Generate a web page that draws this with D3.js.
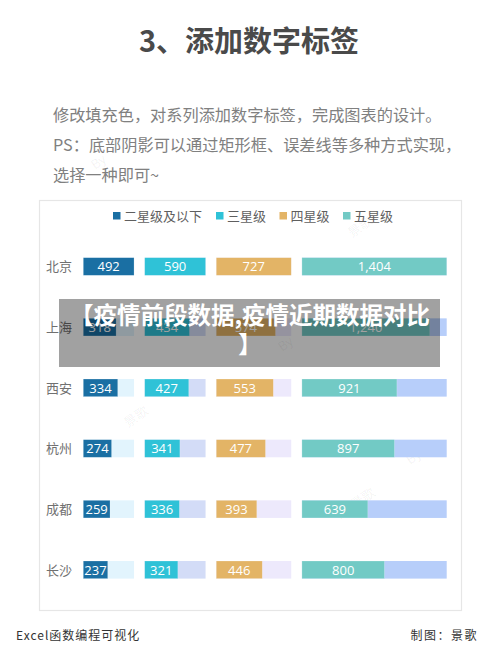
<!DOCTYPE html>
<html><head><meta charset="utf-8">
<script src="https://cdn.jsdelivr.net/npm/d3@7"></script>
<style>
html,body{margin:0;padding:0;background:#fff;}
svg{display:block;font-family:"Noto Sans CJK SC","Noto Sans",sans-serif;}
</style></head>
<body>
<script>
const cities = ["北京","上海","西安","杭州","成都","长沙"];
const seriesNames = ["二星级及以下","三星级","四星级","五星级"];
const star2 = [492,318,334,274,259,237];
const star3 = [590,434,427,341,336,321];
const star4 = [727,574,553,477,393,446];
const star5 = [1404,1240,921,897,639,800];
const seriesValues = [star2,star3,star4,star5];
const fgColors = ["#1a6fa3","#2fc2d7","#e3b466","#72cac5"];
const bgColors = ["#e2f4fd","#d3dcf7","#ede9fc","#b7cefa"];
const titleText = "3、添加数字标签";
const paraLines = ["修改填充色，对系列添加数字标签，完成图表的设计。","PS：底部阴影可以通过矩形框、误差线等多种方式实现，","选择一种即可~"];
const overlayLines = ["【疫情前段数据,疫情近期数据对比","】"];

const W=500,H=666;
const svg=d3.select("body").append("svg").attr("width",W).attr("height",H);
svg.append("rect").attr("width",W).attr("height",H).attr("fill","#fff");

// title
svg.append("text").attr("x",249).attr("y",52).attr("text-anchor","middle")
  .attr("font-size",29).attr("font-weight","bold").attr("fill","#4a4a4a").text(titleText);
paraLines.forEach((t,i)=>{
  svg.append("text").attr("x",53).attr("y",121+i*30).attr("font-size",16.2)
    .attr("fill","#808080").text(t);
});

// panel
svg.append("rect").attr("x",39.5).attr("y",200.5).attr("width",422).attr("height",410)
  .attr("fill","#fff").attr("stroke","#e6e6e6").attr("stroke-width",1.2);

// watermarks
const wm=[[352,238,"景歌"],[282,352,"By"],[128,428,"景歌"],[340,520,"By 景歌"],[95,170,"By"],[410,465,"By"]];
wm.forEach(d=>svg.append("text").attr("transform",`translate(${d[0]},${d[1]}) rotate(-35)`)
  .attr("font-size",13).attr("fill","#000").attr("fill-opacity",0.06).text(d[2]));

// legend
const legX=[113,216,279.5,343];
seriesNames.forEach((n,i)=>{
  svg.append("rect").attr("x",legX[i]).attr("y",212).attr("width",7.5).attr("height",7.5).attr("fill",fgColors[i]);
  svg.append("text").attr("x",legX[i]+11).attr("y",220.5).attr("font-size",13).attr("fill","#5f5f5f").text(n);
});

// scales
const maxes = seriesValues.map(s=>d3.max(s));
const total = d3.sum(maxes);
const gap = 10.7;
const x = d3.scaleLinear().domain([0,total]).range([83.3,446.7-3*gap]);
const offsets = maxes.map((m,i)=>d3.sum(maxes.slice(0,i)));
const y = d3.scalePoint().domain(cities).range([266.5,569.8]);
const bh = 17.6;
const fmt = d3.format(",");

cities.forEach((c,ci)=>{
  svg.append("text").attr("x",46).attr("y",y(c)+4.8).attr("font-size",13).attr("fill","#707070").text(c);
  seriesValues.forEach((s,si)=>{
    const x0 = x(offsets[si]) + si*gap;
    const bgW = x(maxes[si]) - x(0);
    const fgW = x(s[ci]) - x(0);
    svg.append("rect").attr("x",x0).attr("y",y(c)-bh/2).attr("width",bgW).attr("height",bh)
      .attr("fill",bgColors[si]);
    svg.append("rect").attr("x",x0).attr("y",y(c)-bh/2).attr("width",fgW).attr("height",bh)
      .attr("fill",fgColors[si]).attr("stroke","#fff").attr("stroke-opacity",0.35).attr("stroke-width",0.6);
    svg.append("text").attr("x",x0+fgW/2).attr("y",y(c)+4.8).attr("text-anchor","middle")
      .attr("font-size",13).attr("font-family","'Open Sans','Noto Sans',sans-serif")
      .attr("fill","#fff").text(fmt(s[ci]));
  });
});

// overlay
svg.append("rect").attr("x",59).attr("y",299).attr("width",381).attr("height",68)
  .attr("fill","#000").attr("fill-opacity",0.37);
overlayLines.forEach((t,i)=>{
  svg.append("text").attr("x",250).attr("y",324+i*29).attr("text-anchor","middle")
    .attr("font-size",23.5).attr("font-weight","bold").attr("fill","#fff").text(t);
});

// footer
svg.append("text").attr("x",16).attr("y",640).attr("font-size",12).attr("letter-spacing",1)
  .attr("fill","#333").text("Excel函数编程可视化");
svg.append("text").attr("x",478).attr("y",640).attr("text-anchor","end").attr("font-size",12).attr("letter-spacing",1.5)
  .attr("fill","#333").text("制图：景歌");
</script>
</body></html>
